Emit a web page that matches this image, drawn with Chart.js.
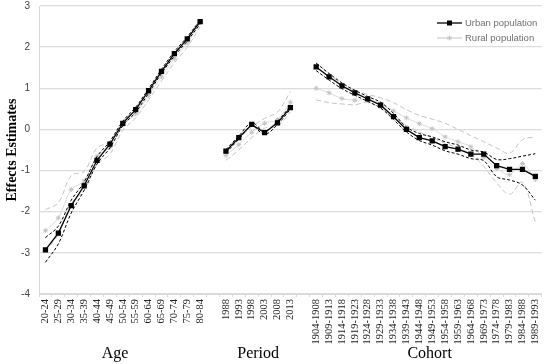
<!DOCTYPE html>
<html>
<head>
<meta charset="utf-8">
<script src="https://cdn.jsdelivr.net/npm/chart.js@4.4.0/dist/chart.umd.min.js"></script>
<style>
  html, body { margin: 0; padding: 0; background: #fff; }
  #wrap { width: 550px; height: 364px; position: relative; }
</style>
</head>
<body>
<div id="wrap"><canvas id="myChart" width="550" height="364"></canvas></div>
<script>
const ageLabels = ["20-24","25-29","30-34","35-39","40-44","45-49","50-54","55-59","60-64","65-69","70-74","75-79","80-84"];
const periodLabels = ["1988","1993","1998","2003","2008","2013"];
const cohortLabels = ["1904-1908","1909-1913","1914-1918","1919-1923","1924-1928","1929-1933","1934-1938","1939-1943","1944-1948",
  "1949-1953","1954-1958","1959-1963","1964-1968","1969-1973","1974-1978","1979-1983","1984-1988","1989-1993"];
const yTicks = [-4, -3, -2, -1, 0, 1, 2, 3];

// urban population: estimate, upper and lower bound
const urbanAge = [-2.93,-2.52,-1.85,-1.37,-0.75,-0.36,0.15,0.48,0.94,1.41,1.84,2.2,2.62];
const urbanAgeHi = [-2.63,-2.35,-1.72,-1.28,-0.66,-0.29,0.2,0.54,0.99,1.46,1.89,2.25,2.66];
const urbanAgeLo = [-3.23,-2.78,-2.03,-1.48,-0.84,-0.45,0.09,0.42,0.88,1.36,1.78,2.15,2.56];
const urbanPeriod = [-0.53,-0.2,0.12,-0.08,0.16,0.53];
const urbanPeriodHi = [-0.49,-0.16,0.16,-0.04,0.2,0.57];
const urbanPeriodLo = [-0.57,-0.24,0.08,-0.12,0.12,0.49];
const urbanCohort = [1.52,1.28,1.06,0.89,0.74,0.59,0.31,0.0,-0.2,-0.28,-0.42,-0.48,-0.6,-0.6,-0.88,-0.97,-0.97,-1.14];
const urbanCohortHi = [1.61,1.36,1.13,0.95,0.8,0.66,0.39,0.06,-0.1,-0.18,-0.3,-0.38,-0.5,-0.55,-0.73,-0.71,-0.65,-0.59];
const urbanCohortLo = [1.43,1.2,0.99,0.83,0.68,0.52,0.24,-0.06,-0.27,-0.38,-0.52,-0.6,-0.71,-0.76,-1.15,-1.23,-1.35,-1.72];

// rural population
const ruralAge = [-2.46,-2.15,-1.46,-1.25,-0.65,-0.44,0.1,0.38,0.82,1.28,1.72,2.1,2.6];
const ruralAgeHi = [-1.95,-1.78,-1.12,-1.02,-0.45,-0.3,0.2,0.48,0.92,1.38,1.82,2.2,2.68];
const ruralAgeLo = [-2.97,-2.55,-1.8,-1.48,-0.85,-0.6,-0.02,0.28,0.72,1.18,1.62,2.0,2.5];
const ruralPeriod = [-0.63,-0.37,-0.07,0.15,0.24,0.66];
const ruralPeriodHi = [-0.52,-0.24,0.06,0.27,0.42,0.92];
const ruralPeriodLo = [-0.75,-0.5,-0.2,0.03,0.08,0.42];
const ruralCohort = [1.0,0.89,0.75,0.71,0.73,0.62,0.45,0.28,0.14,0.02,-0.18,-0.3,-0.42,-0.68,-0.95,-1.1,-0.83,-1.22];
const ruralCohortHi = [1.62,1.35,1.1,0.95,0.85,0.77,0.65,0.48,0.34,0.25,0.15,0.0,-0.15,-0.3,-0.45,-0.58,-0.25,-0.18];
const ruralCohortLo = [0.72,0.65,0.62,0.6,0.66,0.5,0.3,0.1,-0.06,-0.2,-0.34,-0.45,-0.6,-0.9,-1.3,-1.58,-1.28,-2.25];

const groupNames = ["Age", "Period", "Cohort"];
const yTitle = "Effects Estimates";

// one empty slot between the three blocks
const labels = [...ageLabels, "", ...periodLabels, "", ...cohortLabels];
function joinParts(a, p, c) {
  return [...a, null, ...p, null, ...c];
}

const serif = "'Liberation Serif', 'Times New Roman', serif";
const sans = "'Liberation Sans', Arial, sans-serif";
const black = "#000000";
const grey = "#c4c4c4";

function ciLine(data, color, dash) {
  return {
    data: data,
    borderColor: color,
    borderWidth: 1,
    borderDash: dash,
    pointRadius: 0,
    tension: 0.35,
    fill: false
  };
}

const textPlugin = {
  id: "texts",
  afterDraw(chart) {
    const ctx = chart.ctx;
    const x = chart.scales.x;
    const area = chart.chartArea;
    const centers = [5.4, 16.5, 29.8];
    ctx.save();
    ctx.fillStyle = "#000";
    ctx.font = "16px " + serif;
    ctx.textAlign = "center";
    ctx.textBaseline = "middle";
    for (let i = 0; i < groupNames.length; i++) {
      ctx.fillText(groupNames[i], x.getPixelForValue(centers[i]), 354);
    }

    // y title
    ctx.save();
    ctx.translate(12, (area.top + area.bottom) / 2);
    ctx.rotate(-Math.PI / 2);
    ctx.font = "bold 14px " + serif;
    ctx.fillText(yTitle, 0, 0);
    ctx.restore();

    // legend, top right
    const items = [
      { text: "Urban population", color: black, style: "rect", y: 23 },
      { text: "Rural population", color: grey, style: "star", y: 38 }
    ];
    ctx.font = "9.5px " + sans;
    ctx.textAlign = "left";
    items.forEach(it => {
      ctx.strokeStyle = it.color;
      ctx.lineWidth = it.style === "rect" ? 1.3 : 1;
      ctx.beginPath();
      ctx.moveTo(437, it.y);
      ctx.lineTo(462, it.y);
      ctx.stroke();
      if (it.style === "rect") {
        ctx.fillStyle = it.color;
        ctx.fillRect(447, it.y - 2.5, 5, 5);
      } else {
        Chart.helpers.drawPoint(ctx, { pointStyle: it.style, radius: 2.5, borderWidth: 1 }, 449.5, it.y);
      }
      ctx.fillStyle = "#6f6f6f";
      ctx.fillText(it.text, 465, it.y);
    });
    ctx.restore();
  }
};

new Chart("myChart", {
  type: "line",
  data: {
    labels: labels,
    datasets: [
      {
        data: joinParts(urbanAge, urbanPeriod, urbanCohort),
        borderColor: black,
        backgroundColor: black,
        borderWidth: 1.3,
        pointStyle: "rect",
        pointRadius: 2.8,
        tension: 0
      },
      ciLine(joinParts(urbanAgeHi, urbanPeriodHi, urbanCohortHi), black, [3, 2]),
      ciLine(joinParts(urbanAgeLo, urbanPeriodLo, urbanCohortLo), black, [3, 2]),
      {
        data: joinParts(ruralAge, ruralPeriod, ruralCohort),
        borderColor: "#dcdcdc",
        backgroundColor: grey,
        pointBorderColor: grey,
        borderWidth: 1,
        pointStyle: "star",
        pointRadius: 2.5,
        tension: 0.3
      },
      ciLine(joinParts(ruralAgeHi, ruralPeriodHi, ruralCohortHi), grey, [5, 3]),
      ciLine(joinParts(ruralAgeLo, ruralPeriodLo, ruralCohortLo), grey, [5, 3])
    ]
  },
  options: {
    responsive: false,
    animation: false,
    spanGaps: false,
    layout: { padding: { top: 6, right: 2, left: 0, bottom: 0 } },
    plugins: { legend: { display: false }, tooltip: { enabled: false } },
    scales: {
      x: {
        offset: true,
        grid: { display: true, drawOnChartArea: false, offset: true, tickLength: 3, color: "#d9d9d9" },
        border: { color: "#d9d9d9" },
        ticks: {
          autoSkip: false,
          maxRotation: 90,
          minRotation: 90,
          padding: 2,
          color: "#222",
          font: { family: serif, size: 10.5 }
        },
        afterFit: s => { s.height = 70; }
      },
      y: {
        min: -4,
        max: 3,
        afterBuildTicks: s => { s.ticks = yTicks.map(v => ({ value: v })); },
        grid: { color: "#dcdcdc", lineWidth: 1.3, drawTicks: false },
        border: { color: "#d9d9d9" },
        ticks: { color: "#404040", padding: 9, font: { family: sans, size: 10 } },
        afterFit: s => { s.width = 39; s.paddingTop = 0; s.paddingBottom = 0; }
      }
    }
  },
  plugins: [textPlugin]
});
</script>
</body>
</html>
